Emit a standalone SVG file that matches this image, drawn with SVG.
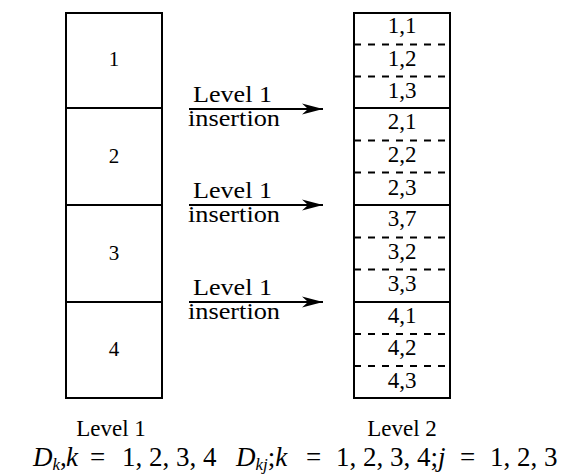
<svg xmlns="http://www.w3.org/2000/svg" width="567" height="475" viewBox="0 0 567 475">
<defs>
<style>
.box{fill:none;stroke:#000;stroke-width:2}
.dash{fill:none;stroke:#000;stroke-width:2;stroke-dasharray:7 7}
.t{font-family:"Liberation Serif","Times New Roman",serif;fill:#000}
.num{font-size:21px;text-anchor:middle}
.cell{font-size:23px;text-anchor:middle}
.lab{font-size:23px}
.it{font-style:italic}
.conn{stroke:#000;stroke-width:2;fill:none}
</style>
<marker id="ah" viewBox="0 0 22 12" refX="21" refY="6" markerWidth="22" markerHeight="12" markerUnits="userSpaceOnUse" orient="auto">
<path d="M21,6 L0,0.5 L6,6 L0,11.5 Z" fill="#000"/>
</marker>
</defs>
<rect width="567" height="475" fill="#fff"/>
<g id="level1">
<rect class="box" x="66" y="13" width="96" height="385"/>
<line class="box" x1="66" y1="108" x2="162" y2="108"/>
<line class="box" x1="66" y1="205" x2="162" y2="205"/>
<line class="box" x1="66" y1="302" x2="162" y2="302"/>
<text class="t num" x="114" y="66">1</text>
<text class="t num" x="114" y="163">2</text>
<text class="t num" x="114" y="260">3</text>
<text class="t num" x="114" y="356">4</text>
</g>
<g id="level2">
<rect class="box" x="354" y="13" width="96" height="385"/>
<line class="box" x1="354" y1="108" x2="450" y2="108"/>
<line class="box" x1="354" y1="205" x2="450" y2="205"/>
<line class="box" x1="354" y1="302" x2="450" y2="302"/>
<line class="dash" x1="354" y1="44.5" x2="450" y2="44.5"/>
<line class="dash" x1="354" y1="76.5" x2="450" y2="76.5"/>
<line class="dash" x1="354" y1="140.5" x2="450" y2="140.5"/>
<line class="dash" x1="354" y1="172.5" x2="450" y2="172.5"/>
<line class="dash" x1="354" y1="237.5" x2="450" y2="237.5"/>
<line class="dash" x1="354" y1="269.5" x2="450" y2="269.5"/>
<line class="dash" x1="354" y1="334" x2="450" y2="334"/>
<line class="dash" x1="354" y1="366" x2="450" y2="366"/>
<text class="t cell" x="402" y="33">1,1</text>
<text class="t cell" x="402" y="66">1,2</text>
<text class="t cell" x="402" y="98">1,3</text>
<text class="t cell" x="402" y="129">2,1</text>
<text class="t cell" x="402" y="162">2,2</text>
<text class="t cell" x="402" y="195">2,3</text>
<text class="t cell" x="402" y="226">3,7</text>
<text class="t cell" x="402" y="259">3,2</text>
<text class="t cell" x="402" y="291">3,3</text>
<text class="t cell" x="402" y="323">4,1</text>
<text class="t cell" x="402" y="355">4,2</text>
<text class="t cell" x="402" y="388">4,3</text>
</g>
<g id="connectors">
<line class="conn" x1="189" y1="109" x2="323" y2="109" marker-end="url(#ah)"/>
<line class="conn" x1="189" y1="205" x2="323" y2="205" marker-end="url(#ah)"/>
<line class="conn" x1="189" y1="302" x2="323" y2="302" marker-end="url(#ah)"/>
</g>
<g id="arrow-labels">
<text class="t lab" x="193" y="102" textLength="79" lengthAdjust="spacingAndGlyphs">Level 1</text>
<text class="t lab" x="188" y="126" textLength="92" lengthAdjust="spacingAndGlyphs">insertion</text>
<text class="t lab" x="193" y="198" textLength="79" lengthAdjust="spacingAndGlyphs">Level 1</text>
<text class="t lab" x="188" y="222" textLength="92" lengthAdjust="spacingAndGlyphs">insertion</text>
<text class="t lab" x="193" y="295" textLength="79" lengthAdjust="spacingAndGlyphs">Level 1</text>
<text class="t lab" x="188" y="319" textLength="92" lengthAdjust="spacingAndGlyphs">insertion</text>
</g>
<g id="captions">
<text class="t" font-size="23" x="111" y="436" text-anchor="middle">Level 1</text>
<text class="t" font-size="23" x="402" y="436" text-anchor="middle">Level 2</text>
<text class="t" font-size="27" y="466"><tspan x="33" class="it">D</tspan><tspan class="it" font-size="17" dy="4">k</tspan><tspan dy="-4">,</tspan><tspan class="it" x="66">k</tspan><tspan x="90">=</tspan><tspan x="122">1, 2, 3, 4</tspan></text>
<text class="t" font-size="27" y="466"><tspan x="236" class="it">D</tspan><tspan class="it" font-size="17" dy="4">kj</tspan><tspan dy="-4">;</tspan><tspan class="it">k</tspan><tspan x="306">=</tspan><tspan x="336">1, 2, 3, 4;</tspan><tspan class="it">j</tspan><tspan x="460">=</tspan><tspan x="490">1, 2, 3</tspan></text>
</g>
</svg>
